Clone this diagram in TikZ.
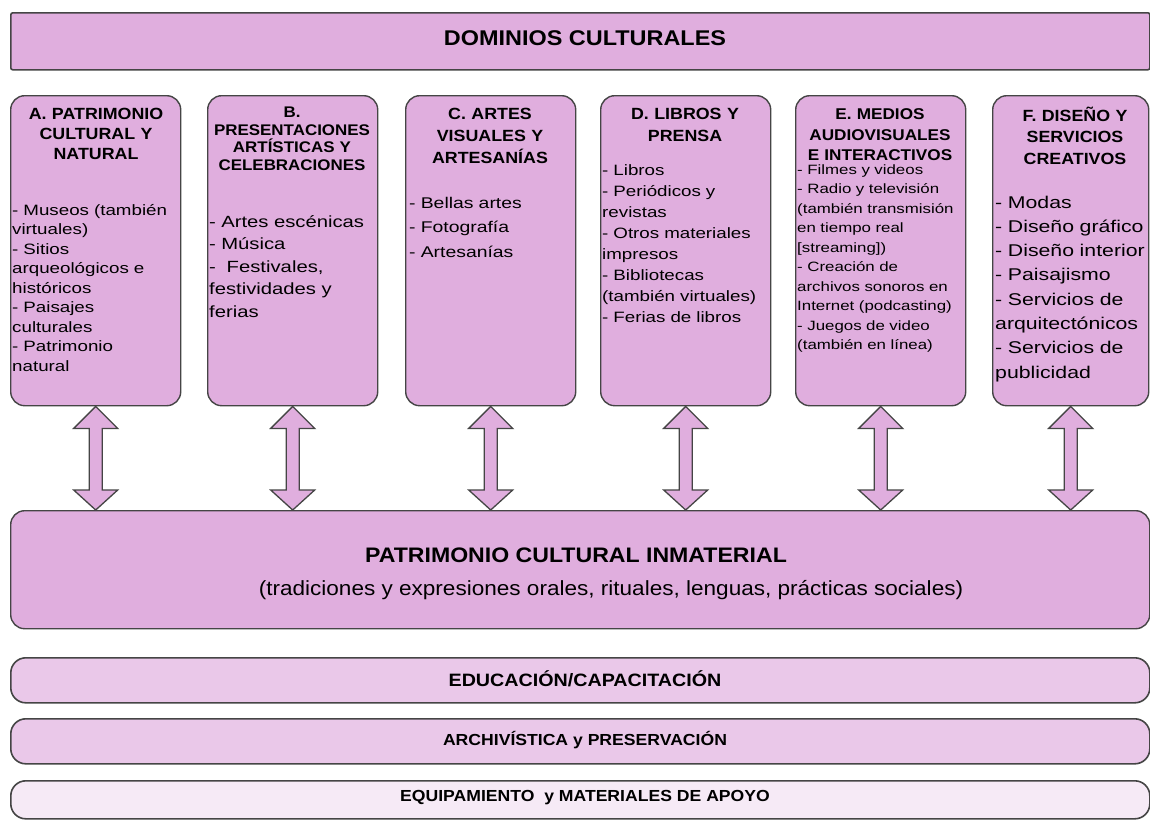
\documentclass[tikz,border=0pt]{standalone}
\usepackage{fontspec}
\setmainfont{Liberation Sans}
\newfontfamily\hf[FakeStretch=1.1]{Liberation Sans}
\newfontfamily\wf[FakeStretch=1.25]{Liberation Sans}
\usetikzlibrary{calc}
\definecolor{pinkA}{HTML}{E0AEDE}
\definecolor{pinkB}{HTML}{EAC8E9}
\definecolor{pinkC}{HTML}{F6EAF6}
\definecolor{lineC}{HTML}{454545}
\begin{document}
\begin{tikzpicture}[x=1pt,y=-1pt,
  colbox/.style={draw=lineC, line width=1.4pt, fill=pinkA, rounded corners=14pt, inner sep=0pt, anchor=north west},
  banner/.style={draw=lineC, line width=1.6pt, fill=pinkA, rounded corners=2pt, inner sep=0pt, anchor=north west},
  barbox/.style={draw=lineC, line width=1.6pt, rounded corners=15pt, inner sep=0pt, anchor=north west, minimum width=1139pt},
  hdr/.style={text width=180pt, align=center, anchor=base, inner sep=0pt},
  itm/.style={text width=200pt, align=left, anchor=base west, inner sep=0pt},
  dbl/.style={draw=lineC, line width=1.3pt, fill=pinkA, line join=miter},
  bartext/.style={inner sep=0pt, anchor=center}
]
\useasboundingbox[fill=white] (0,0) rectangle (1150,820);

% top banner
\node[banner, minimum width=1139pt, minimum height=57pt] (top) at (10,12) {};
\node[inner sep=0pt, font={\hf\bfseries\fontsize{21.3}{24}\selectfont}] (ttl) at (585,38) {DOMINIOS CULTURALES};

% column boxes
\node[colbox, minimum width=170pt, minimum height=310pt] (A) at (10,95) {};
\node[colbox, minimum width=170pt, minimum height=310pt] (B) at (207,95) {};
\node[colbox, minimum width=170pt, minimum height=310pt] (C) at (405,95) {};
\node[colbox, minimum width=170pt, minimum height=310pt] (D) at (600,95) {};
\node[colbox, minimum width=170pt, minimum height=310pt] (E) at (795,95) {};
\node[colbox, minimum width=156pt, minimum height=310pt] (F) at (992,95) {};

% headers
\node[hdr, font={\hf\bfseries\fontsize{16.2}{20}\selectfont}] (hA) at (96,119) {A. PATRIMONIO\\CULTURAL Y\\NATURAL};
\node[hdr, font={\hf\bfseries\fontsize{15.4}{17.7}\selectfont}] (hB) at (292,117.5) {B.\\PRESENTACIONES\\ARTÍSTICAS Y\\CELEBRACIONES};
\node[hdr, font={\hf\bfseries\fontsize{16.2}{22}\selectfont}] (hC) at (490,119) {C. ARTES\\VISUALES Y\\ARTESANÍAS};
\node[hdr, font={\hf\bfseries\fontsize{16.2}{22}\selectfont}] (hD) at (685,119) {D. LIBROS Y\\PRENSA};
\node[hdr, font={\hf\bfseries\fontsize{15.6}{20.5}\selectfont}] (hE) at (880,119.5) {E. MEDIOS\\AUDIOVISUALES\\E INTERACTIVOS};
\node[hdr, font={\hf\bfseries\fontsize{16.2}{21.5}\selectfont}] (hF) at (1075,121) {F. DISEÑO Y\\SERVICIOS\\CREATIVOS};

% item lists
\node[itm, font={\wf\fontsize{15}{19.5}\selectfont}] (iA) at (12,215) {- Museos (también\\virtuales)\\- Sitios\\arqueológicos e\\históricos\\- Paisajes\\culturales\\- Patrimonio\\natural};
\node[itm, font={\wf\fontsize{16.2}{22.5}\selectfont}] (iB) at (209,227) {- Artes escénicas\\- Música\\-\ \ Festivales,\\festividades y\\ferias};
\node[itm, font={\wf\fontsize{15.5}{24.5}\selectfont}] (iC) at (409,208) {- Bellas artes\\- Fotografía\\- Artesanías};
\node[itm, font={\wf\fontsize{15}{21.1}\selectfont}] (iD) at (602,175) {- Libros\\- Periódicos y\\revistas\\- Otros materiales\\impresos\\- Bibliotecas\\(también virtuales)\\- Ferias de libros};
\node[itm, font={\wf\fontsize{13.5}{19.5}\selectfont}] (iE) at (797,174) {- Filmes y videos\\- Radio y televisión\\(también transmisión\\en tiempo real\\{[}streaming{]})\\- Creación de\\archivos sonoros en\\Internet (podcasting)\\- Juegos de video\\(también en línea)};
\node[itm, font={\wf\fontsize{17}{24.3}\selectfont}] (iF) at (995,208) {- Modas\\- Diseño gráfico\\- Diseño interior\\- Paisajismo\\- Servicios de\\arquitectónicos\\- Servicios de\\publicidad};

% main box
\node[colbox, minimum width=1139pt, minimum height=118pt] (M) at (10,510) {};
\node[inner sep=0pt, font={\hf\bfseries\fontsize{21}{24}\selectfont}] (mt) at (576,555) {PATRIMONIO CULTURAL INMATERIAL};
\node[inner sep=0pt, font={\hf\fontsize{20.5}{24}\selectfont}] (ms) at (611,590) {(tradiciones y expresiones orales, rituales, lenguas, prácticas sociales)};

% double arrows
\foreach \n in {A,B,C,D,E,F}{
  \draw[dbl] (\n.south) -- ($(\n.south)+(22,22)$) -- ($(\n.south)+(6.5,22)$)
    -- ($(\n.south |- M.north)+(6.5,-20)$) -- ($(\n.south |- M.north)+(22,-20)$)
    -- (\n.south |- M.north)
    -- ($(\n.south |- M.north)+(-22,-20)$) -- ($(\n.south |- M.north)+(-6.5,-20)$)
    -- ($(\n.south)+(-6.5,22)$) -- ($(\n.south)+(-22,22)$) -- cycle;
}

% bottom bars
\node[barbox, fill=pinkB, minimum height=45pt] (ed) at (10,657) {};
\node[bartext, font={\hf\bfseries\fontsize{17.9}{20}\selectfont}] (edt) at (585,679) {EDUCACIÓN/CAPACITACIÓN};
\node[barbox, fill=pinkB, minimum height=45pt] (ar) at (10,718) {};
\node[bartext, font={\hf\bfseries\fontsize{16}{20}\selectfont}] (art) at (585,740) {ARCHIVÍSTICA y PRESERVACIÓN};
\node[barbox, fill=pinkC, minimum height=38pt] (eq) at (10,780) {};
\node[bartext, font={\hf\bfseries\fontsize{16}{20}\selectfont}] (eqt) at (585,798) {EQUIPAMIENTO\ \ y MATERIALES DE APOYO};
\end{tikzpicture}
\end{document}
